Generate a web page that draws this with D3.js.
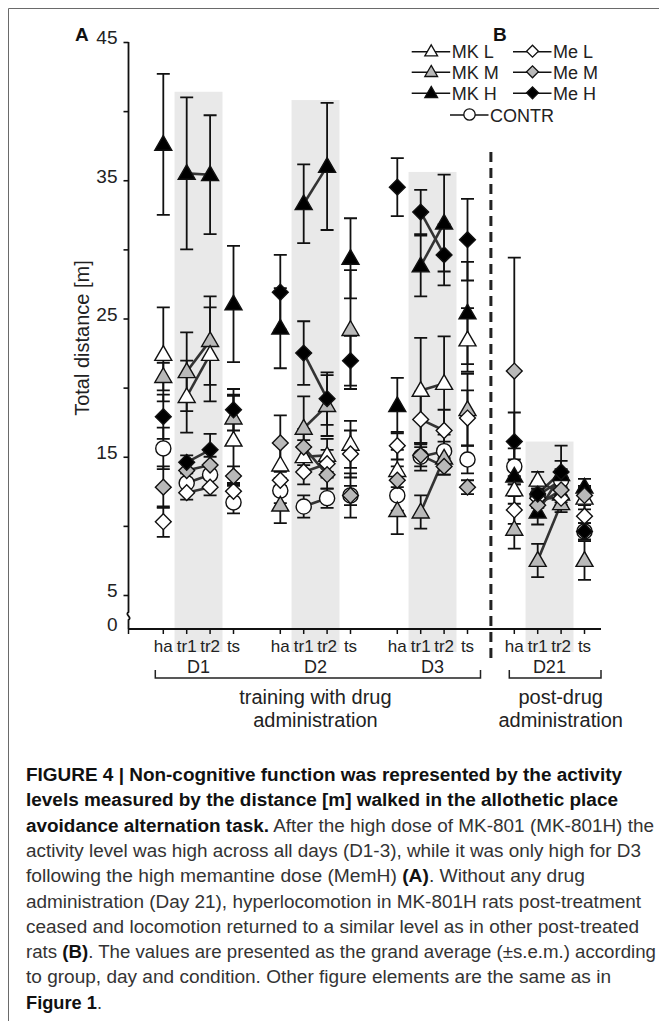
<!DOCTYPE html>
<html><head><meta charset="utf-8">
<script src="https://cdn.jsdelivr.net/npm/d3@7"></script>
<style>body{margin:0;background:#fff} svg{display:block}</style>
</head><body><svg id="c" width="659" height="1021"></svg>
<script>
// ---------- data ----------
const days = ["D1", "D2", "D3", "D21"];
const conditions = ["ha", "tr1", "tr2", "ts"];
const yTicks = [5, 10, 15, 20, 25, 30, 35, 40, 45];
const yTickLabels = ["5", "", "15", "", "25", "", "35", "", "45"];

const groups = ["MK L", "MK M", "MK H", "Me L", "Me M", "Me H", "CONTR"];

// means / s.e.m. in order D1(ha,tr1,tr2,ts), D2(...), D3(...), D21(...)
const mkL_mean = [22.4, 19.35, 22.4, 16.2, 14.4, 15.0, 15.1, 15.9, 14.0, 19.8, 20.3, 23.45, 12.6, 13.3, 12.3, 12.0];
const mkL_sem  = [3.4, 2.6, 3.4, 3.2, 1.5, 1.2, 1.2, 1.7, 1.5, 3.8, 3.4, 2.3, 1.0, 0.6, 0.8, 0.8];
const mkM_mean = [20.8, 21.15, 23.4, 17.8, 11.5, 17.06, 18.7, 24.2, 11.1, 11.0, 14.9, 18.4, 9.75, 7.5, 11.6, 7.5];
const mkM_sem  = [1.0, 2.85, 3.2, 1.7, 1.3, 2.3, 2.2, 4.3, 1.7, 1.2, 1.2, 2.6, 1.4, 1.2, 0.6, 1.4];
const mkH_mean = [37.6, 35.5, 35.4, 26.05, 24.3, 33.3, 36.0, 29.35, 18.7, 28.8, 31.9, 25.4, 13.6, 11.0, 13.7, 12.8];
const mkH_sem  = [5.1, 5.5, 4.3, 4.2, 2.9, 2.85, 4.6, 2.9, 2.0, 2.2, 3.5, 3.7, 1.2, 0.9, 1.0, 0.6];
const meL_mean = [10.3, 12.4, 12.8, 12.5, 13.3, 13.9, 14.5, 15.2, 15.8, 17.7, 16.9, 17.8, 11.15, 12.0, 12.0, 10.7];
const meL_sem  = [1.1, 0.5, 0.6, 0.6, 0.6, 0.9, 1.0, 1.7, 1.0, 2.0, 1.5, 2.0, 1.0, 0.7, 0.8, 0.8];
const meM_mean = [12.8, 14.0, 14.4, 13.6, 16.0, 15.7, 13.7, 12.2, 13.3, 15.1, 14.3, 12.8, 21.2, 11.5, 12.6, 12.2];
const meM_sem  = [1.5, 0.6, 0.6, 0.7, 2.0, 1.3, 1.0, 0.7, 1.0, 0.8, 0.6, 0.5, 8.2, 0.8, 0.9, 0.7];
const meH_mean = [17.9, 14.6, 15.5, 18.4, 26.9, 22.5, 19.2, 21.95, 34.5, 32.7, 29.6, 30.7, 16.1, 12.3, 13.9, 9.6];
const meH_sem  = [1.6, 0.5, 1.15, 1.5, 2.7, 2.3, 1.9, 1.8, 2.1, 1.6, 2.2, 2.95, 2.1, 0.9, 1.9, 0.6];
const con_mean = [15.6, 13.1, 13.7, 11.7, 12.55, 11.4, 12.0, 12.2, 12.2, 15.0, 15.4, 14.8, 14.3, 12.2, 13.3, 9.6];
const con_sem  = [1.5, 0.7, 0.8, 0.8, 0.9, 0.8, 0.7, 1.6, 1.1, 1.0, 1.2, 1.0, 1.3, 0.7, 0.8, 0.6];

// height (value) of the grey training band per day
const bandTop = [41.4, 40.8, 35.6, 16.1];

const captionLines = [
  [["b","FIGURE 4 | Non-cognitive function was represented by the activity"]],
  [["b","levels measured by the distance [m] walked in the allothetic place"]],
  [["b","avoidance alternation task."],["n"," After the high dose of MK-801 (MK-801H) the"]],
  [["n","activity level was high across all days (D1-3), while it was only high for D3"]],
  [["n","following the high memantine dose (MemH) "],["b","(A)"],["n",". Without any drug"]],
  [["n","administration (Day 21), hyperlocomotion in MK-801H rats post-treatment"]],
  [["n","ceased and locomotion returned to a similar level as in other post-treated"]],
  [["n","rats "],["b","(B)"],["n",". The values are presented as the grand average (\u00B1s.e.m.) according"]],
  [["n","to group, day and condition. Other figure elements are the same as in"]],
  [["b","Figure 1"],["n","."]]
];
const captionWidths = [596, 592, 628, 615, 559, 615, 613, 630, 585, 76];

// ---------- build ----------
const svg = d3.select("#c");
const FONT = "'Liberation Sans', Arial, Helvetica, sans-serif";

const series = [
  {name:"CONTR", mean:con_mean, sem:con_sem, shape:"circle", fill:"#ffffff"},
  {name:"MK H", mean:mkH_mean, sem:mkH_sem, shape:"tri", fill:"#000000"},
  {name:"MK M", mean:mkM_mean, sem:mkM_sem, shape:"tri", fill:"#b9b9b9"},
  {name:"MK L", mean:mkL_mean, sem:mkL_sem, shape:"tri", fill:"#ffffff"},
  {name:"Me L", mean:meL_mean, sem:meL_sem, shape:"dia", fill:"#ffffff"},
  {name:"Me M", mean:meM_mean, sem:meM_sem, shape:"dia", fill:"#b9b9b9"},
  {name:"Me H", mean:meH_mean, sem:meH_sem, shape:"dia", fill:"#000000"}
];

// slot domain with spacer between days
const slotDomain = [];
days.forEach((d, i) => {
  conditions.forEach(c => slotDomain.push(d + "|" + c));
  if (i < days.length - 1) slotDomain.push("gap" + i);
});
const slotKeys = [];
days.forEach(d => conditions.forEach(c => slotKeys.push(d + "|" + c)));

const x = d3.scalePoint().domain(slotDomain).range([163.3, 584.5]);
const step = x.step();
const y = d3.scaleLinear().domain([5, 45]).range([595, 42]);
const yZero = 629;
const axisX = 128.5;
const axisRight = 601;

// frame
svg.append("path").attr("d", "M8.5,1021 V8.5 H659").attr("fill", "none").attr("stroke", "#6a6a6a").attr("stroke-width", 1);

// bands
days.forEach((d, i) => {
  const x0 = x(d + "|tr1") - step * 0.52, x1 = x(d + "|tr2") + step * 0.53;
  svg.append("rect").attr("x", x0).attr("y", y(bandTop[i])).attr("width", x1 - x0)
    .attr("height", 652 - y(bandTop[i])).attr("fill", "#e9e9e9");
});

// y axis
const yAxis = d3.axisLeft(y).tickValues(yTicks).tickSize(5).tickPadding(6)
  .tickFormat((d, i) => yTickLabels[i]);
const gy = svg.append("g").attr("transform", `translate(${axisX},0)`).call(yAxis);
gy.select(".domain").remove();
gy.selectAll(".tick line").attr("stroke", "#111").attr("stroke-width", 1.6);
gy.selectAll(".tick text").attr("font-family", FONT).attr("font-size", 19).attr("fill", "#222").attr("dy", "0.1em");
svg.append("path").attr("d", `M${axisX},${y(45)} V612 C${axisX-4},615 ${axisX+4},617 ${axisX},620 V${yZero}`)
  .attr("fill", "none").attr("stroke", "#111").attr("stroke-width", 1.8);
svg.append("text").attr("x", axisX - 11).attr("y", yZero + 2).attr("text-anchor", "end")
  .attr("font-family", FONT).attr("font-size", 19).attr("fill", "#222").text("0");

// x axis
svg.append("line").attr("x1", axisX).attr("x2", axisRight).attr("y1", yZero).attr("y2", yZero)
  .attr("stroke", "#111").attr("stroke-width", 1.8);
svg.selectAll(".xt").data(slotKeys).join("line").attr("class", "xt")
  .attr("x1", d => x(d)).attr("x2", d => x(d)).attr("y1", yZero).attr("y2", yZero + 5)
  .attr("stroke", "#111").attr("stroke-width", 1.5);
svg.append("line").attr("x1", axisX).attr("x2", axisX).attr("y1", yZero).attr("y2", yZero + 5)
  .attr("stroke", "#111").attr("stroke-width", 1.5);
svg.selectAll(".xl").data(slotKeys).join("text").attr("class", "xl")
  .attr("x", d => x(d)).attr("y", 652).attr("text-anchor", "middle")
  .attr("font-family", FONT).attr("font-size", 17).attr("fill", "#222")
  .text(d => d.split("|")[1]);
svg.selectAll(".dl").data(days).join("text").attr("class", "dl")
  .attr("x", d => (x(d + "|tr1") + x(d + "|tr2")) / 2).attr("y", 673).attr("text-anchor", "middle")
  .attr("font-family", FONT).attr("font-size", 18).attr("fill", "#222").text(d => d);

// dashed separator
const sepX = x("gap2");
svg.append("line").attr("x1", sepX).attr("x2", sepX).attr("y1", 152).attr("y2", 662)
  .attr("stroke", "#222").attr("stroke-width", 3).attr("stroke-dasharray", "10,6");

// brackets
function bracket(xa, xb, yb) {
  svg.append("path").attr("d", `M${xa},${yb - 8} V${yb} H${xb} V${yb - 8}`)
    .attr("fill", "none").attr("stroke", "#222").attr("stroke-width", 1.5);
}
bracket(x("D1|ha") - 8, x("D3|ts") + 13, 678);
bracket(x("D21|ha") - 5, axisRight, 678);
function label2(cx, l1, l2) {
  const t = svg.append("text").attr("text-anchor", "middle").attr("font-family", FONT)
    .attr("font-size", 20).attr("fill", "#222");
  t.append("tspan").attr("x", cx).attr("y", 704).text(l1);
  t.append("tspan").attr("x", cx).attr("y", 727).text(l2);
}
label2((x("D1|ha") + x("D3|ts")) / 2, "training with drug", "administration");
label2((x("D21|ha") + axisRight) / 2 + 3, "post-drug", "administration");

// y label
svg.append("text").attr("transform", "translate(89,338) rotate(-90)").attr("text-anchor", "middle")
  .attr("font-family", FONT).attr("font-size", 20).attr("fill", "#222").text("Total distance [m]");

// panel letters
svg.append("text").attr("x", 75).attr("y", 41).attr("font-family", FONT).attr("font-weight", "bold")
  .attr("font-size", 19).attr("fill", "#111").text("A");
svg.append("text").attr("x", 493).attr("y", 41).attr("font-family", FONT).attr("font-weight", "bold")
  .attr("font-size", 19).attr("fill", "#111").text("B");

// symbols
function symFor(shape, scale) {
  const s = scale || 1;
  if (shape === "tri") return d3.symbol().type(d3.symbolTriangle).size(125 * s * s)();
  if (shape === "dia") return d3.symbol().type(d3.symbolSquare).size(125 * s * s)();
  return d3.symbol().type(d3.symbolCircle).size(180 * s * s)();
}
function symTransform(shape, cx, cy) {
  if (shape === "dia") return `translate(${cx},${cy}) rotate(45)`;
  if (shape === "tri") return `translate(${cx},${cy + 1})`;
  return `translate(${cx},${cy})`;
}

// connecting lines tr1 -> tr2
const gLines = svg.append("g");
series.forEach(s => {
  days.forEach((d, di) => {
    const i1 = di * 4 + 1, i2 = di * 4 + 2;
    gLines.append("line").attr("x1", x(slotKeys[i1])).attr("y1", y(s.mean[i1]))
      .attr("x2", x(slotKeys[i2])).attr("y2", y(s.mean[i2]))
      .attr("stroke", "#333").attr("stroke-width", 2.6);
  });
});

// error bars
const gErr = svg.append("g").attr("stroke", "#111").attr("stroke-width", 1.8).attr("fill", "none");
series.forEach(s => {
  slotKeys.forEach((k, i) => {
    const cx = x(k), hi = y(s.mean[i] + s.sem[i]), lo = y(s.mean[i] - s.sem[i]);
    gErr.append("path").attr("d", `M${cx},${hi} V${lo} M${cx - 6.5},${hi} H${cx + 6.5} M${cx - 6.5},${lo} H${cx + 6.5}`);
  });
});

// markers
const gMk = svg.append("g");
series.forEach(s => {
  gMk.selectAll(null).data(s.mean).join("path")
    .attr("d", symFor(s.shape))
    .attr("transform", (v, i) => symTransform(s.shape, x(slotKeys[i]), y(v)))
    .attr("fill", s.fill).attr("stroke", "#111").attr("stroke-width", 1.4);
});

// legend
const legendRows = [
  {name:"MK L", shape:"tri", fill:"#ffffff", col:0, row:0},
  {name:"MK M", shape:"tri", fill:"#b9b9b9", col:0, row:1},
  {name:"MK H", shape:"tri", fill:"#000000", col:0, row:2},
  {name:"Me L", shape:"dia", fill:"#ffffff", col:1, row:0},
  {name:"Me M", shape:"dia", fill:"#b9b9b9", col:1, row:1},
  {name:"Me H", shape:"dia", fill:"#000000", col:1, row:2},
  {name:"CONTR", shape:"circle", fill:"#ffffff", col:2, row:3}
];
const legX = [411.7, 513, 450];
const legY = [51.7, 72.3, 93.3, 115];
legendRows.forEach(r => {
  const x0 = legX[r.col], yy = legY[r.row];
  const g = svg.append("g");
  g.append("line").attr("x1", x0).attr("x2", x0 + 38.5).attr("y1", yy).attr("y2", yy)
    .attr("stroke", "#111").attr("stroke-width", 1.6);
  g.append("path").attr("d", symFor(r.shape, 0.75))
    .attr("transform", symTransform(r.shape, x0 + 19.5, yy - 0.5))
    .attr("fill", r.fill).attr("stroke", "#111").attr("stroke-width", 1.3);
  g.append("text").attr("x", x0 + 40).attr("y", yy + 6.5).attr("font-family", FONT)
    .attr("font-size", 18).attr("fill", "#222").text(r.name);
});

// caption
const capFont = "'Liberation Sans Narrow', 'Liberation Sans', Arial, sans-serif";
captionLines.forEach((parts, li) => {
  const t = svg.append("text").attr("x", 26).attr("y", 781 + li * 25.3)
    .attr("font-family", capFont).attr("font-size", 17.5).attr("fill", "#222")
    .attr("textLength", captionWidths[li]).attr("lengthAdjust", "spacingAndGlyphs");
  parts.forEach(p => {
    t.append("tspan").attr("font-weight", p[0] === "b" ? "bold" : "normal")
      .attr("fill", p[0] === "b" ? "#111" : "#333").text(p[1]);
  });
});
</script>
</body></html>
